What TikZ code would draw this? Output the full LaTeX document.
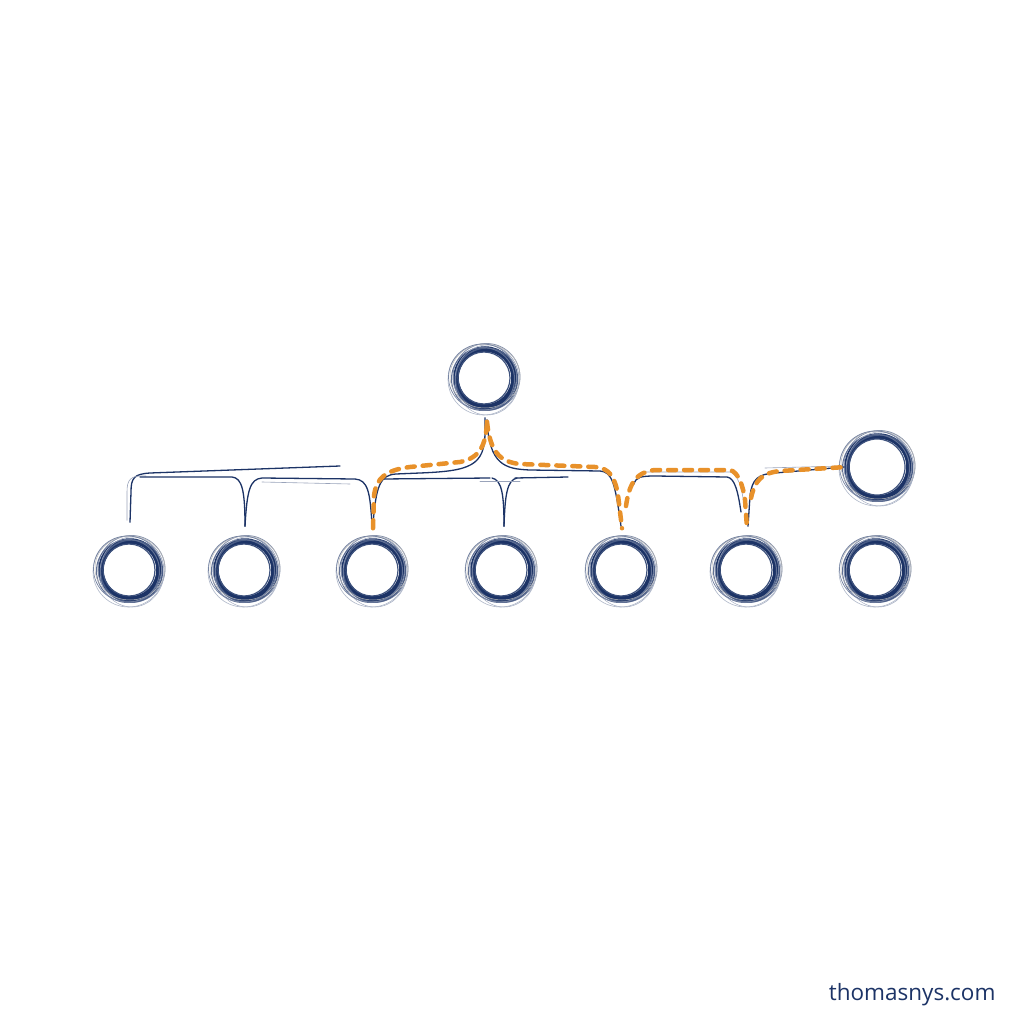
\documentclass[tikz,border=0pt]{standalone}
\usepackage{fontspec}
\setsansfont{Open Sans}
\usetikzlibrary{calc}
\definecolor{navy}{HTML}{1C3366}
\definecolor{sketchorange}{HTML}{E8912A}
\tikzset{
  ring/.style={circle, draw=navy, line width=5.5pt, minimum size=#1, inner sep=0pt},
  ring/.default=58pt,
  link/.style={draw=navy, line width=1.3pt, line cap=round, line join=round},
  faint/.style={draw=navy!45, line width=0.6pt, line cap=round},
  hot/.style={draw=sketchorange, line width=4.5pt, line cap=round, dash pattern=on 8pt off 8pt},
}
\newcommand\sketchring[2]{%
  \draw[navy!55, line width=0.8pt] ([shift={(1.5,-1)}]#1.center) circle [radius=#2pt+4.5pt];
  \draw[navy!35, line width=0.6pt] ([shift={(-1.5,1.5)}]#1.center) circle [radius=#2pt+6.5pt];
  \draw[navy!80, line width=1.4pt] ([shift={(1.5,1)}]#1.center) circle [radius=#2pt+2pt];
  \draw[navy!85, line width=1.2pt] ([shift={(-1,0)}]#1.center) circle [radius=#2pt-3pt];
  \draw[navy!70, line width=1pt] ([shift={(-2,1)}]#1.center) circle [radius=#2pt+2.5pt];
  \draw[gray!55, line width=0.5pt] ([shift={(0,-2)}]#1.center) ellipse [x radius=#2pt+6pt, y radius=#2pt+3pt];
  \draw[navy!40, line width=0.5pt] ([shift={(2,2)}]#1.center) ellipse [x radius=#2pt+3pt, y radius=#2pt+6pt];
  \draw[navy!60, line width=0.7pt] ([shift={(-2.5,-1)}]#1.center) ellipse [x radius=#2pt+5pt, y radius=#2pt+4pt];
}
\begin{document}
\begin{tikzpicture}[x=1pt,y=-1pt]
\useasboundingbox[fill=white] (0,0) rectangle (1024,1024);

% nodes
\node[ring] (root) at (485,378) {};
\node[ring] (n1) at (130,570) {};
\node[ring] (n2) at (245,570) {};
\node[ring] (n3) at (373,570) {};
\node[ring] (n4) at (502,570) {};
\node[ring] (n5) at (622,570) {};
\node[ring] (n6) at (747,570) {};
\node[ring] (n7) at (876,570) {};
\node[ring=62pt] (r) at (878,467) {};

\foreach \n in {root,n1,n2,n3,n4,n5,n6,n7}{\sketchring{\n}{29}}
\sketchring{r}{31}

% blue connectors
% left bracket
\draw[link] ($(n1.north)+(0,-16)$) -- (131,492) .. controls (131,478) and (134,474) .. (150,473) -- (340,466);
\draw[faint] ($(n1.north)+(-3,-18)$) -- (127,492) .. controls (127,480) and (130,475) .. (146,476);
\draw[link] (140,477) -- (232,477) .. controls (242,478) and (245,490) .. ($(n2.north)+(0,-12)$);
\draw[link] ($(n2.north)+(0,-12)$) .. controls (247,490) and (250,479) .. (262,478) -- (355,479)
  .. controls (368,480) and (370,492) .. ($(n3.north)+(-1,-14)$);
\draw[faint] (262,482) -- (350,484);
% root to n3
\draw[link] ($(root.south)+(0,8)$) -- (485,432) .. controls (485,466) and (470,471) .. (420,473)
  -- (396,474) .. controls (380,475) and (376,486) .. ($(n3.north)+(0,-14)$);
% root to n5
\draw[link] ($(root.south)+(2,10)$) .. controls (489,465) and (505,469) .. (530,470)
  -- (600,471) .. controls (612,472) and (615,482) .. ($(n5.north)+(-1,-12)$);
% bar and drop to n4
\draw[link] (382,479) -- (490,478);
\draw[link] (515,478) -- (568,477);
\draw[link] ($(n4.north)+(2,-12)$) .. controls (504,495) and (502,480) .. (492,478);
\draw[link] ($(n4.north)+(2,-12)$) .. controls (505,495) and (507,480) .. (517,478);
\draw[faint] (480,481) -- (520,481);
% right group
\draw[link] (634,484) .. controls (636,477) and (641,476) .. (655,476) -- (727,477)
  .. controls (735,478) and (738,492) .. (741,512);
\draw[faint] (645,472) -- (730,472) .. controls (738,474) and (742,488) .. (744,505);
\draw[link] ($(n6.north)+(1,-12)$) -- (750,496) .. controls (752,479) and (758,474) .. (775,473) -- (r.west);
\draw[faint] (765,468) -- (842,466);

% orange highlighted route
\draw[hot] ($(n3.north)+(0,-10)$) -- (374,496) .. controls (376,478) and (386,470) .. (410,467)
  -- (460,462) .. controls (480,458) and (486,445) .. ($(root.south)+(2,12)$);
\draw[hot] ($(root.south)+(2,12)$) .. controls (490,452) and (500,462) .. (520,464)
  -- (595,467) .. controls (610,468) and (615,478) .. (618,495) -- ($(n5.north)+(0,-10)$);
\draw[hot] (626,506) .. controls (629,485) and (635,472) .. (655,470) -- (730,470)
  .. controls (738,472) and (743,485) .. (745,500) -- ($(n6.north)+(0,-10)$);
\draw[hot] (751,498) .. controls (755,480) and (762,473) .. (780,471) -- ($(r.west)+(2,0)$);

% watermark
\node[anchor=east, text=navy, font=\sffamily\fontsize{22.5}{26}\selectfont] (url) at (999,995) {thomasnys.com};
\end{tikzpicture}
\end{document}
